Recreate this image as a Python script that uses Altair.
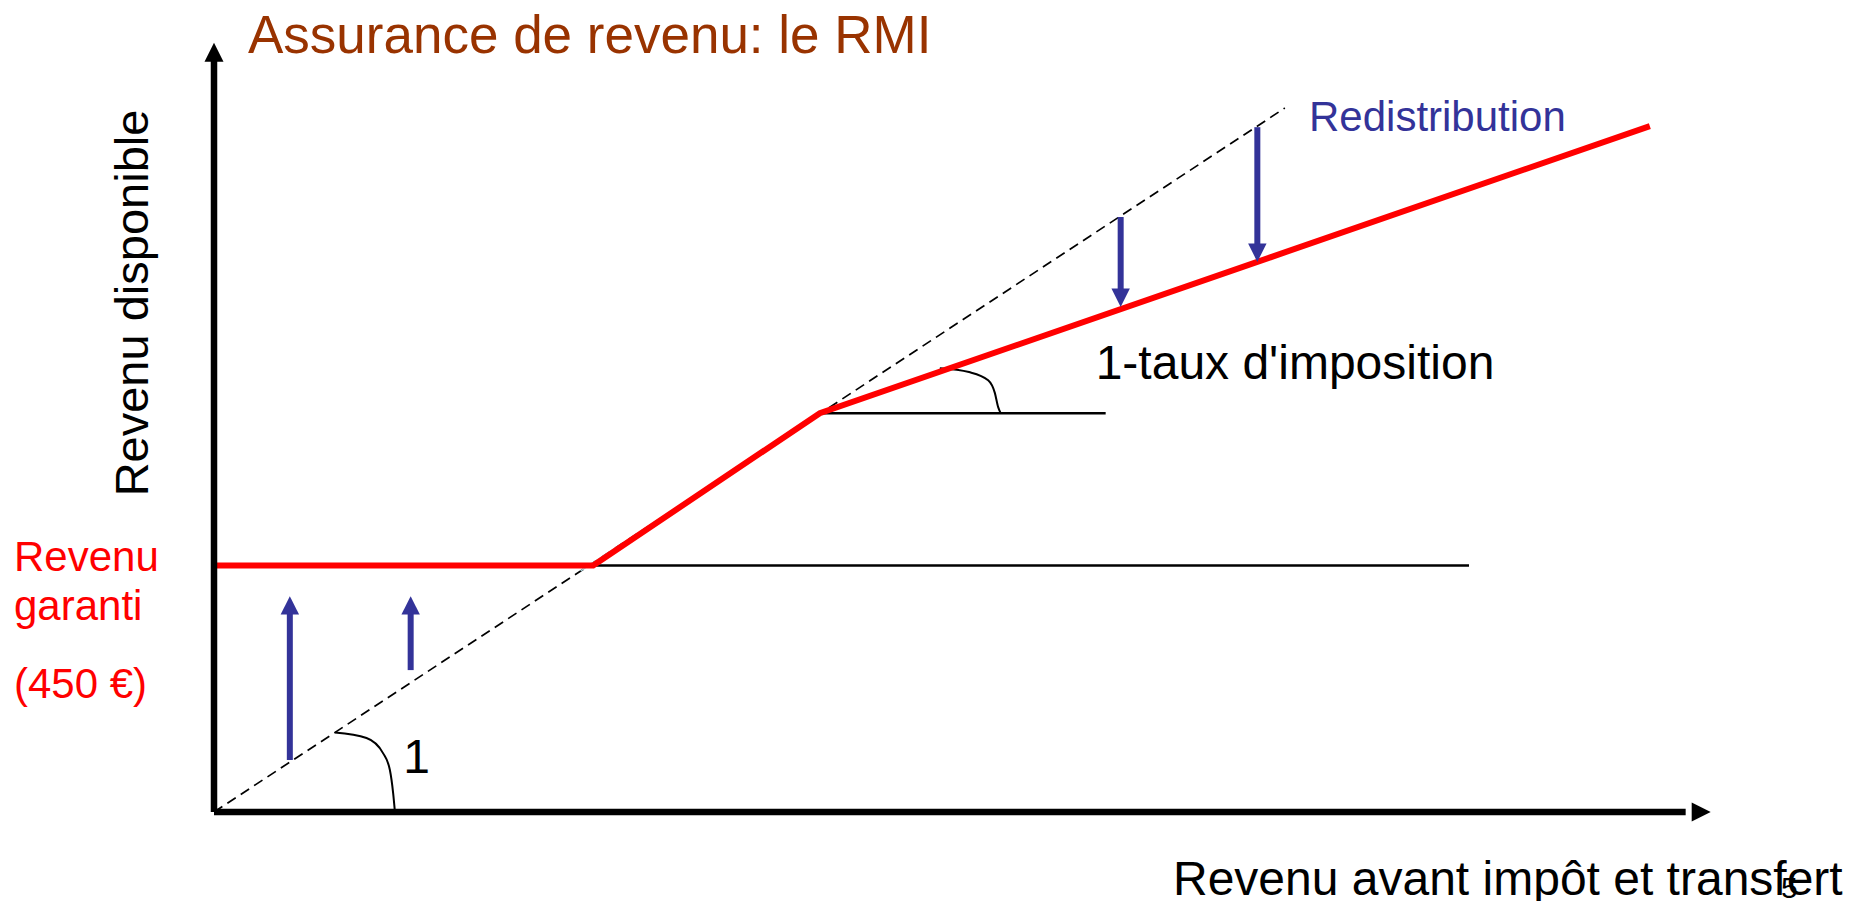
import altair as alt
import pandas as pd

# ---------------- data (euros) ----------------
# red curve: revenu disponible with RMI
red_x = [0, 455, 727, 1723]
red_y = [450, 450, 728, 1252]
# 45-degree dashed line (no redistribution)
diag_x = [0, 1285]
diag_y = [0, 1285]
# faint light-blue trace along the diagonal
trace_x = [440, 630]
trace_y = [440, 630]
# thin horizontal reference lines
hline_x0 = [438, 727]
hline_x1 = [1506, 1070]
hline_y = [450, 728]
# slope arcs
arc1_x = [145, 183, 203, 211, 215, 217]
arc1_y = [145, 135, 107, 77, 34, 2]
arc2_x = [871, 906, 929, 937, 941, 944]
arc2_y = [810, 803, 788, 765, 739, 728]
# up arrows (transfers)
up_x = [91, 236]
up_from = [95, 259]
up_tip = [394, 394]
# down arrows (taxes)
down_x = [1088, 1252]
down_from = [1086, 1250]
down_tip = [922, 1004]
# axes
xaxis_end = 1796
yaxis_end = 1404

FONT = "Liberation Sans"
BLUE = "#333399"
RED = "#ff0000"

xs = alt.Scale(domain=[0, 1800], nice=False, zero=False)
ys = alt.Scale(domain=[0, 1400], nice=False, zero=False)


def X(f="x"):
    return alt.X(f"{f}:Q", scale=xs, axis=None)


def Y(f="y"):
    return alt.Y(f"{f}:Q", scale=ys, axis=None)


def line(xv, yv, color, width, dash=None, interp="linear"):
    df = pd.DataFrame({"x": xv, "y": yv, "i": list(range(len(xv)))})
    kw = dict(color=color, strokeWidth=width, interpolate=interp)
    if dash:
        kw["strokeDash"] = dash
    return alt.Chart(df).mark_line(**kw).encode(x=X(), y=Y(), order="i:Q")


layers = []

# dashed 45-degree line
layers.append(line(diag_x, diag_y, "black", 1.7, dash=[10, 6]))
layers.append(line(trace_x, trace_y, "#a9d4dc", 1.5))

# thin horizontal lines
hdf = pd.DataFrame({"x": hline_x0, "x2": hline_x1, "y": hline_y})
layers.append(
    alt.Chart(hdf)
    .mark_rule(color="black", strokeWidth=2.5)
    .encode(x=X(), x2="x2:Q", y=Y())
)

# arcs
layers.append(line(arc1_x, arc1_y, "black", 2, interp="monotone"))
layers.append(line(arc2_x, arc2_y, "black", 2, interp="monotone"))

# red curve
layers.append(line(red_x, red_y, RED, 6))

# up arrows
updf = pd.DataFrame({"x": up_x, "y": up_from, "y2": [t - 20 for t in up_tip], "tip": up_tip})
layers.append(
    alt.Chart(updf).mark_rule(color=BLUE, strokeWidth=6).encode(x=X(), y=Y(), y2="y2:Q")
)
layers.append(
    alt.Chart(updf)
    .mark_point(shape="M0,0L-1,2L1,2Z", size=340, filled=True, opacity=1, color=BLUE)
    .encode(x=X(), y=Y("tip"))
)

# down arrows
dndf = pd.DataFrame({"x": down_x, "y": down_from, "y2": [t + 30 for t in down_tip], "tip": down_tip})
layers.append(
    alt.Chart(dndf).mark_rule(color=BLUE, strokeWidth=6).encode(x=X(), y=Y(), y2="y2:Q")
)
layers.append(
    alt.Chart(dndf)
    .mark_point(shape="M0,0L-1,-2L1,-2Z", size=340, filled=True, opacity=1, color=BLUE)
    .encode(x=X(), y=Y("tip"))
)

# axes
axdf = pd.DataFrame({"x": [0], "y": [0], "xe": [xaxis_end - 30], "ye": [yaxis_end - 30],
                     "xt": [xaxis_end], "yt": [yaxis_end]})
layers.append(
    alt.Chart(axdf).mark_rule(color="black", strokeWidth=6.5).encode(x=X(), x2="xe:Q", y=Y())
)
layers.append(
    alt.Chart(axdf).mark_rule(color="black", strokeWidth=6.5).encode(x=X(), y=Y(), y2="ye:Q")
)
layers.append(
    alt.Chart(axdf)
    .mark_point(shape="M0,0L-1,2L1,2Z", size=360, filled=True, opacity=1, color="black")
    .encode(x=X(), y=Y("yt"))
)
layers.append(
    alt.Chart(axdf)
    .mark_point(shape="M0,0L-2,-1L-2,1Z", size=360, filled=True, opacity=1, color="black")
    .encode(x=X("xt"), y=Y())
)


# texts in data coordinates
def dtext(label, x, y, size, color="black"):
    df = pd.DataFrame({"x": [x], "y": [y], "t": [label]})
    return (
        alt.Chart(df)
        .mark_text(align="left", baseline="alphabetic", fontSize=size, font=FONT, color=color)
        .encode(x=X(), y=Y(), text="t:N")
    )


layers.append(dtext("1-taux d'imposition", 1058, 790, 48))
layers.append(dtext("Redistribution", 1314, 1243, 42, BLUE))
layers.append(dtext("1", 227, 71, 48))


# texts outside the plot (pixel positions relative to plot area)
def ptext(label, px, py, size, color="black", angle=0, align="left"):
    df = pd.DataFrame({"t": [label]})
    kw = dict(align=align, baseline="alphabetic", fontSize=size, font=FONT, color=color)
    if angle:
        kw["angle"] = angle
    return (
        alt.Chart(df)
        .mark_text(**kw)
        .encode(x=alt.value(px), y=alt.value(py), text="t:N")
    )


layers.append(ptext("Assurance de revenu: le RMI", 34, 8, 53, "#993300"))
layers.append(ptext("Revenu disponible", -66, 258, 47, angle=270, align="center"))
layers.append(ptext("Revenu", -200, 526, 42, RED))
layers.append(ptext("garanti", -200, 575, 42, RED))
layers.append(ptext("(450 €)", -200, 653, 42, RED))
layers.append(ptext("Revenu avant impôt et transfert", 959, 850, 48))
layers.append(ptext("5", 1567, 853, 30))

chart = (
    alt.layer(*layers)
    .properties(
        width=1500,
        height=767,
        autosize=alt.AutoSizeParams(type="none"),
        padding={"left": 206, "top": 37, "right": 130, "bottom": 100},
        background="white",
    )
    .configure_view(stroke=None)
)

chart.save("out.html", embed_options={"renderer": "svg", "actions": False})
